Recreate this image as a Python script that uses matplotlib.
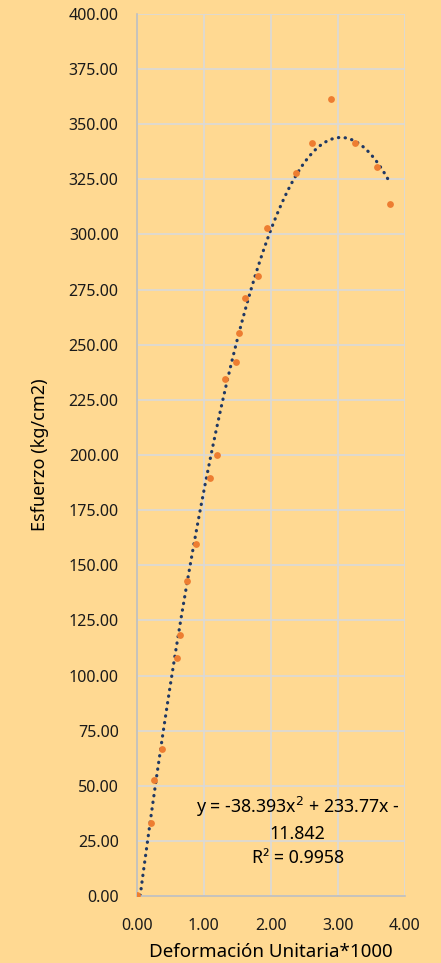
import numpy as np
import matplotlib.pyplot as plt

plt.rcParams['font.family'] = ['Noto Sans', 'DejaVu Sans']

# datos
deformacion = [0.00, 0.21, 0.26, 0.37, 0.60, 0.65, 0.75, 0.88, 1.09, 1.19,
               1.32, 1.475, 1.52, 1.62, 1.81, 1.94, 2.38, 2.61, 2.89, 3.25,
               3.58, 3.77]
esfuerzo = [0.3, 33.0, 52.8, 66.5, 107.8, 118.5, 142.9, 159.8, 189.4, 200.1,
            234.5, 242.2, 255.2, 271.2, 281.0, 303.1, 327.7, 341.3, 361.3, 341.3,
            330.7, 313.8]
coef = [-38.393, 233.77, -11.842]   # tendencia polinómica
y_ticks = np.arange(0, 401, 25)
x_ticks = [0, 1, 2, 3, 4]

bg = '#FFD992'
fig = plt.figure(figsize=(4.41, 9.63), dpi=100, facecolor=bg)
ax = fig.add_axes([136.7 / 441, 67 / 963, 268.3 / 441, 882 / 963])
ax.set_facecolor(bg)

xs = np.linspace(0, max(deformacion), 300)
ys = np.polyval(coef, xs)
ax.plot(xs, ys, color='#1F3864', lw=2.3, linestyle=(0, (0.1, 2.0)),
        dash_capstyle='round', zorder=2)
ax.scatter(deformacion, esfuerzo, s=24, color='#ED7D31', zorder=3, lw=0)

ax.set_xlim(0, 4)
ax.set_ylim(0, 400)
ax.set_xticks(x_ticks)
ax.set_yticks(y_ticks)
ax.set_xticklabels([f"{v:.2f}" for v in x_ticks])
ax.set_yticklabels([f"{v:.2f}" for v in y_ticks])
ax.tick_params(length=0, labelsize=11.5, colors='#1a1a1a')
ax.tick_params(axis='x', pad=16)
ax.tick_params(axis='y', pad=13)
ax.grid(True, color='#D9D9D9', lw=1.2)
ax.set_axisbelow(True)
for s in ['top', 'right']:
    ax.spines[s].set_visible(False)
for s in ['left', 'bottom']:
    ax.spines[s].set_color('#BFBFBF')
    ax.spines[s].set_linewidth(1.2)

ax.set_xlabel("Deformación Unitaria*1000", fontsize=13.5, labelpad=6)
ax.set_ylabel("Esfuerzo (kg/cm2)", fontsize=13, labelpad=14)

ax.text(2.4, 29.5, "y = -38.393x$^2$ + 233.77x -\n11.842\nR² = 0.9958",
        ha='center', va='center', fontsize=12.8, linespacing=1.4)

fig.savefig("out.png", dpi=100, facecolor=bg)
